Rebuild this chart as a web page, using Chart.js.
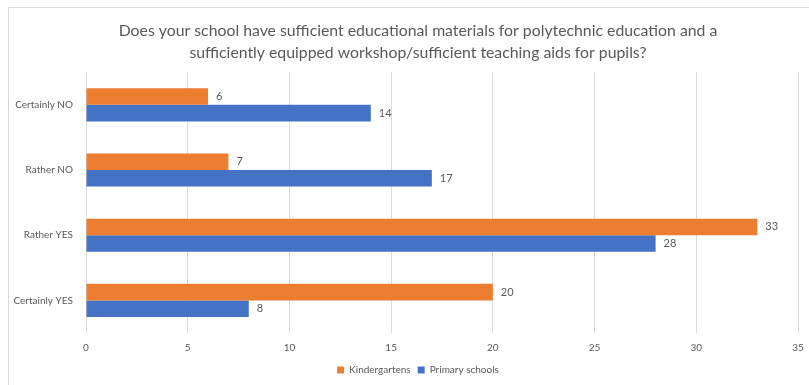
<!DOCTYPE html>
<html>
<head>
<meta charset="utf-8">
<script src="https://cdn.jsdelivr.net/npm/chart.js@4"></script>
<style>
  body { margin: 0; background: #fff; overflow: hidden; }
  #frame { position: absolute; left: 8px; top: 7px; width: 830px; height: 390px; border: 1px solid #d9d9d9; }
  #barChart { position: absolute; left: 0; top: 0; }
</style>
</head>
<body>
<div id="frame"><canvas id="barChart" width="818" height="377"></canvas></div>
<script>
var categories = ["Certainly NO", "Rather NO", "Rather YES", "Certainly YES"];
var kindergartens = [6, 7, 33, 20];
var primarySchools = [14, 17, 28, 8];
var xTicks = [0, 5, 10, 15, 20, 25, 30, 35];
var titleLines = [
    "Does your school have sufficient educational materials for polytechnic education and a",
    "sufficiently equipped workshop/sufficient teaching aids for pupils?"
];

var textColor = '#595959';
var fontFamily = "Lato, 'Open Sans', sans-serif";

// value labels at the end of each bar
var barLabels = {
    id: 'barLabels',
    afterDatasetsDraw: function(chart) {
        var ctx = chart.ctx;
        ctx.save();
        ctx.font = "11px " + fontFamily;
        ctx.fillStyle = textColor;
        ctx.textBaseline = 'middle';
        ctx.textAlign = 'left';
        chart.data.datasets.forEach(function(ds, i) {
            chart.getDatasetMeta(i).data.forEach(function(bar, j) {
                ctx.fillText(ds.data[j], bar.x + 8, bar.y);
            });
        });
        ctx.restore();
    }
};

var bar = document.getElementById("barChart");
var chart = new Chart(bar, {
    type: 'bar',
    data: {
        labels: categories,
        datasets: [{
            label: 'Kindergartens',
            data: kindergartens,
            backgroundColor: '#ed7d31',
            borderWidth: 0
        }, {
            label: 'Primary schools',
            data: primarySchools,
            backgroundColor: '#4472c4',
            borderWidth: 0
        }]
    },
    options: {
        responsive: false,
        animation: false,
        indexAxis: 'y',
        layout: { padding: 0 },
        datasets: { bar: { categoryPercentage: 0.508, barPercentage: 1.0 } },
        scales: {
            x: {
                min: 0,
                max: 35,
                afterBuildTicks: function(s) { s.ticks = xTicks.map(function(v) { return { value: v }; }); },
                grid: { color: '#d9d9d9', drawTicks: false },
                border: { display: false },
                ticks: { color: textColor, font: { size: 10, family: fontFamily }, padding: 9 },
                afterFit: function(s) { s.height = 25; }
            },
            y: {
                grid: { display: false },
                border: { display: false },
                ticks: { color: textColor, font: { size: 10, family: fontFamily }, padding: 5 },
                afterFit: function(s) { s.width = 77; }
            },
            // empty right-hand spacer so the plot ends where the reference does
            spacer: {
                type: 'linear',
                axis: 'y',
                position: 'right',
                grid: { display: false },
                border: { display: false },
                ticks: { display: false },
                afterFit: function(s) { s.width = 29; }
            }
        },
        plugins: {
            title: {
                display: true,
                text: titleLines,
                color: textColor,
                font: { size: 15.8, family: fontFamily, weight: 'normal', lineHeight: 1.4 },
                padding: { top: 12, bottom: 8 }
            },
            legend: {
                position: 'bottom',
                labels: {
                    color: textColor,
                    boxWidth: 7,
                    boxHeight: 7,
                    padding: 7,
                    font: { size: 10, family: fontFamily }
                }
            },
            tooltip: { enabled: false }
        }
    },
    plugins: [barLabels]
});
</script>
</body>
</html>
